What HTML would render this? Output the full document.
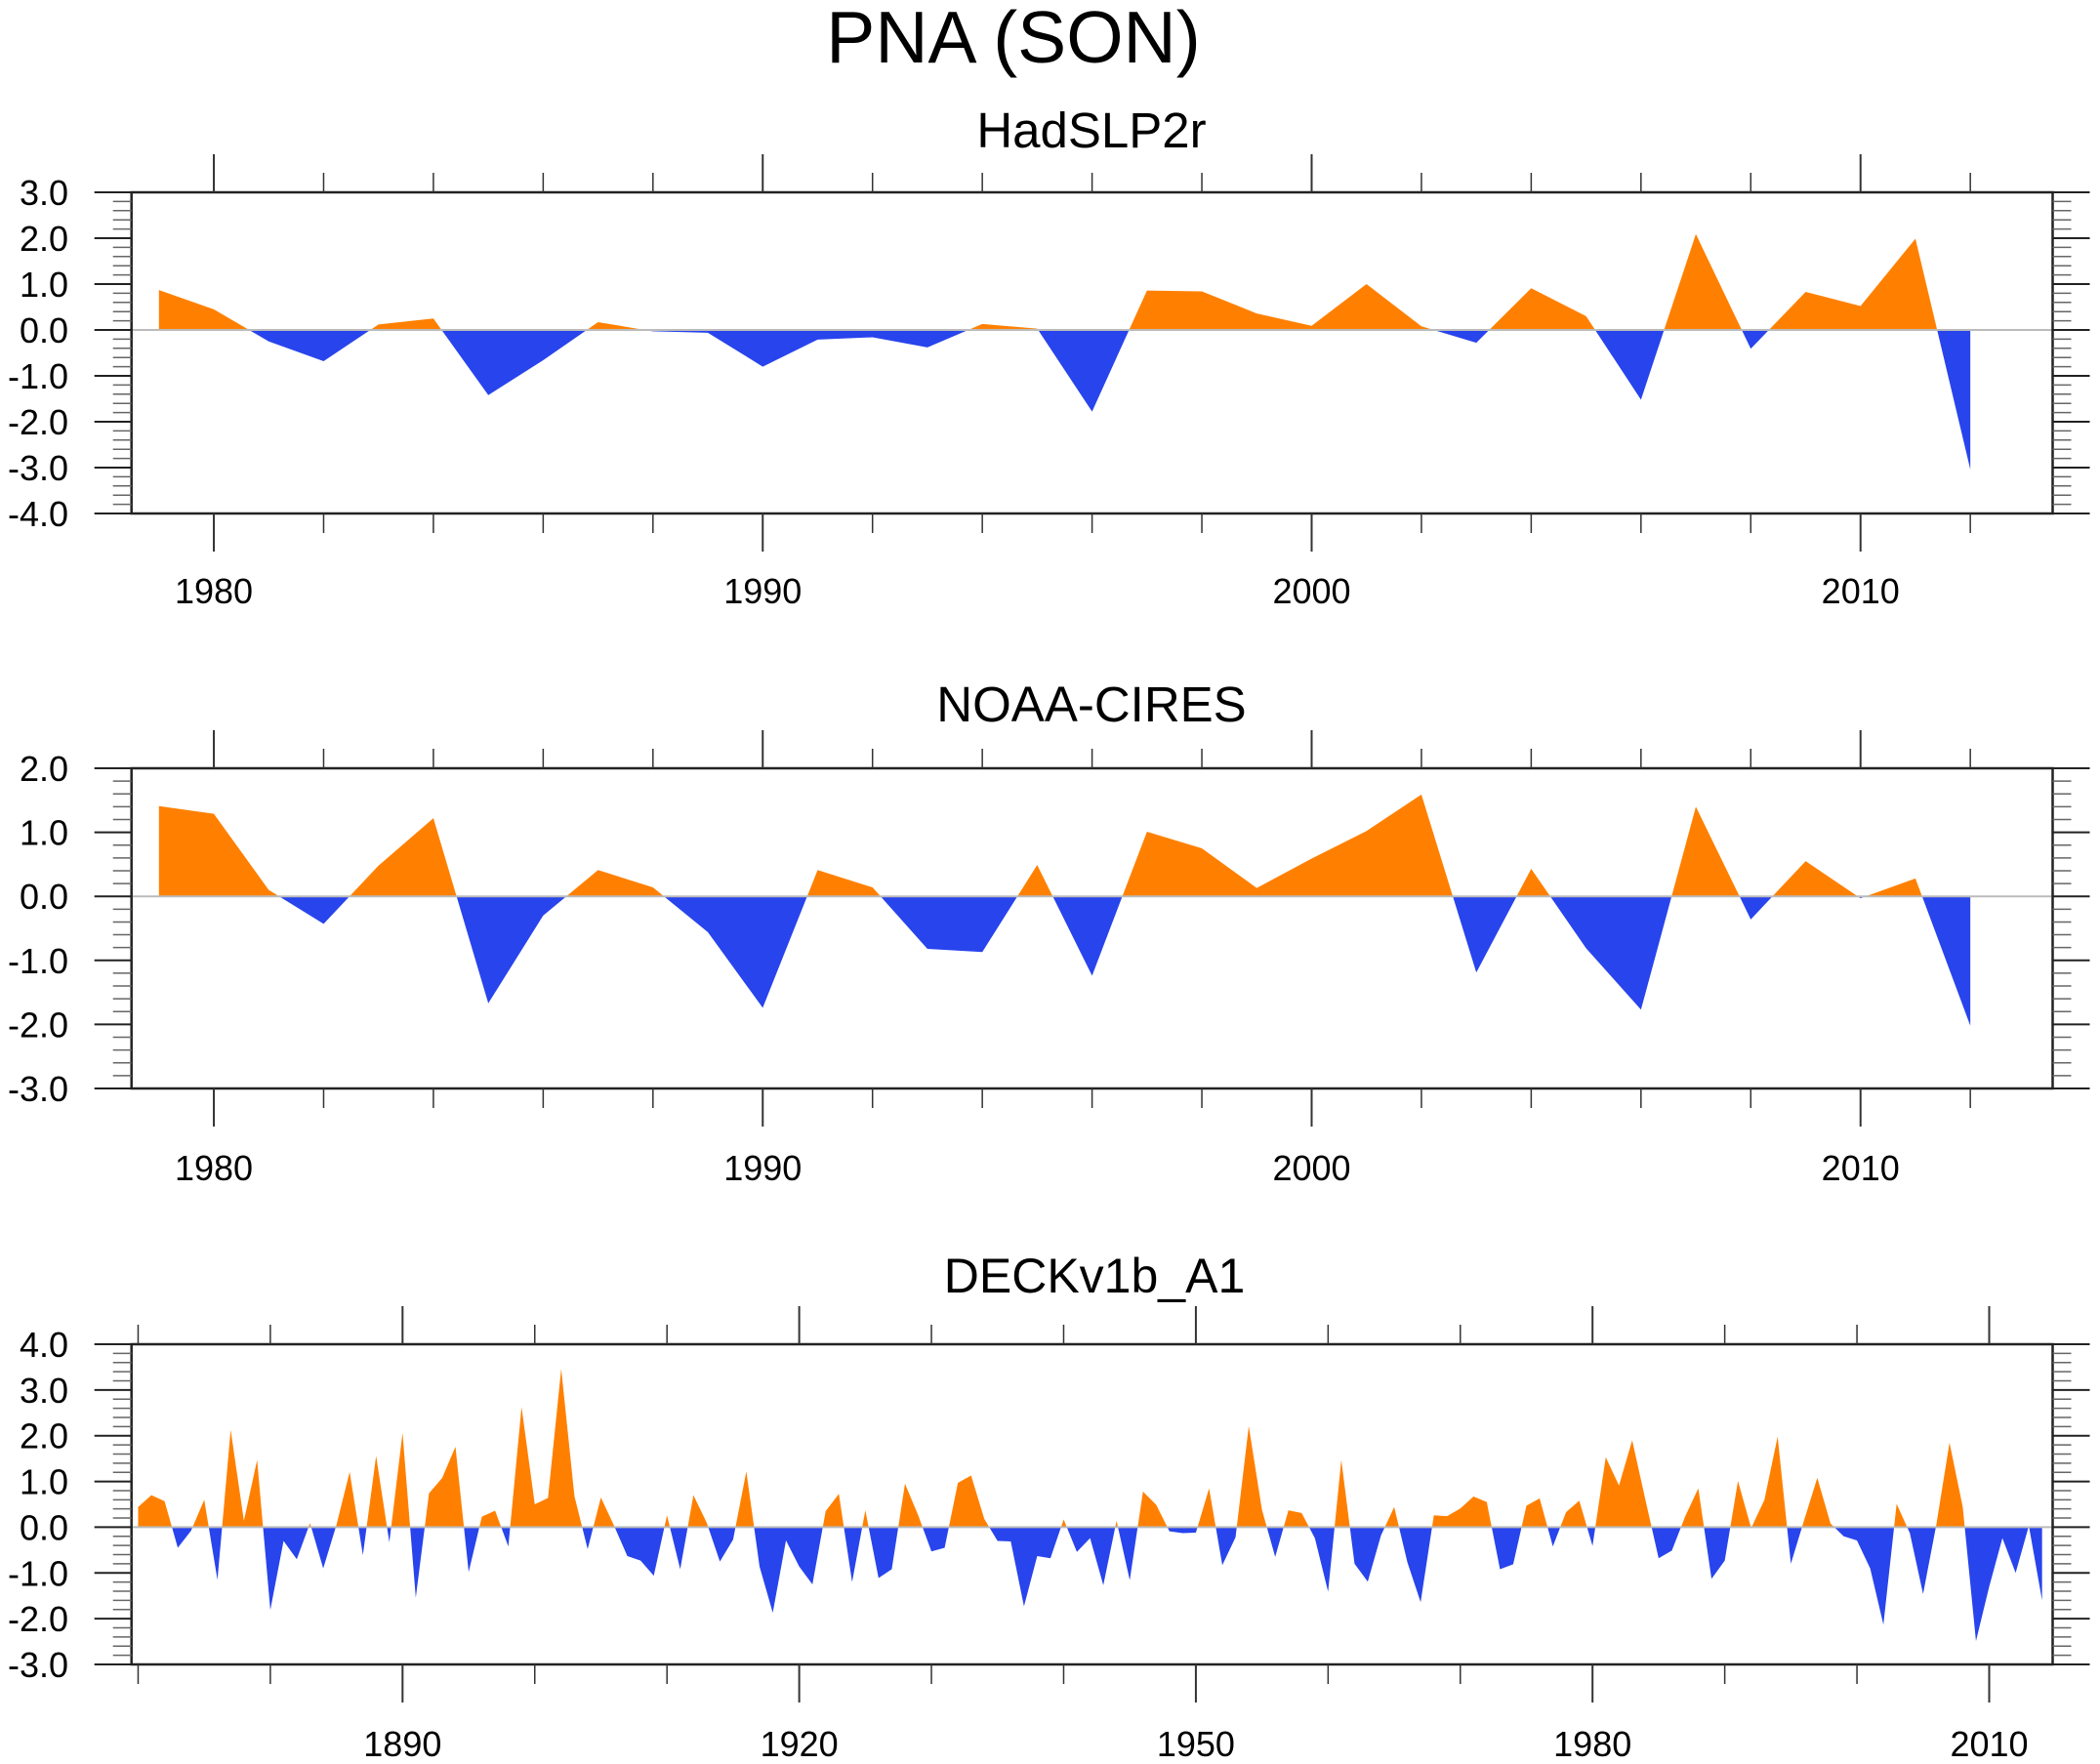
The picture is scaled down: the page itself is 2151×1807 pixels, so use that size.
<!DOCTYPE html>
<html><head><meta charset="utf-8"><style>
html,body{margin:0;padding:0;background:#fff;}
svg{display:block;font-family:"Liberation Sans",sans-serif;}
</style></head><body>
<svg id="chart" width="2151" height="1807" viewBox="0 0 2151 1807" xmlns="http://www.w3.org/2000/svg">
<text x="1038" y="64" font-size="75" text-anchor="middle">PNA (SON)</text>
</svg>
<script>
const yearsA = [];
for (let y = 1979; y <= 2012; y++) yearsA.push(y);
const hadValues = [0.87,0.45,-0.25,-0.68,0.12,0.25,-1.42,-0.66,0.17,-0.03,-0.06,-0.80,-0.21,-0.16,-0.38,0.13,0.03,-1.78,0.86,0.84,0.36,0.09,1.0,0.08,-0.28,0.91,0.30,-1.52,2.09,-0.41,0.83,0.52,1.99,-3.04];
const noaaValues = [1.41,1.29,0.10,-0.43,0.48,1.22,-1.67,-0.30,0.41,0.14,-0.56,-1.74,0.41,0.14,-0.82,-0.87,0.49,-1.24,1.01,0.75,0.13,0.59,1.02,1.59,-1.19,0.43,-0.81,-1.77,1.40,-0.36,0.55,-0.03,0.28,-2.02];
const yearsB = [];
for (let y = 1870; y <= 2014; y++) yearsB.push(y);
const deckValues = [0.44,0.70,0.57,-0.45,-0.08,0.60,-1.15,2.13,0.14,1.47,
-1.81,-0.30,-0.70,0.09,-0.90,0.05,1.21,-0.61,1.56,-0.33,
2.06,-1.54,0.74,1.08,1.76,-0.98,0.23,0.36,-0.42,2.63,
0.50,0.64,3.46,0.68,-0.48,0.65,0.03,-0.63,-0.73,-1.06,
0.26,-0.92,0.70,0.10,-0.75,-0.27,1.22,-0.86,-1.87,-0.29,
-0.86,-1.25,0.35,0.73,-1.20,0.37,-1.11,-0.92,0.95,0.26,
-0.53,-0.45,0.97,1.13,0.18,-0.30,-0.31,-1.73,-0.63,-0.68,
0.17,-0.54,-0.24,-1.27,0.14,-1.16,0.78,0.49,-0.09,-0.13,
-0.12,0.85,-0.83,-0.22,2.21,0.38,-0.65,0.37,0.31,-0.24,
-1.41,1.47,-0.80,-1.19,-0.18,0.44,-0.77,-1.64,0.26,0.24,
0.41,0.67,0.55,-0.92,-0.81,0.47,0.63,-0.42,0.33,0.58,
-0.41,1.53,0.91,1.90,0.60,-0.68,-0.51,0.23,0.85,-1.13,
-0.73,1.01,-0.02,0.60,1.98,-0.80,0.15,1.08,0.08,-0.20,
-0.29,-0.90,-2.13,0.51,-0.13,-1.46,0.05,1.85,0.44,-2.49,
-1.30,-0.24,-1.00,0.03,-1.60];
const ticksA = [1980,1990,2000,2010];
const ticksB = [1890,1920,1950,1980,2010];

const NS = "http://www.w3.org/2000/svg";
const svg = document.getElementById('chart');
function mk(tag, attrs, parent){
  const e = document.createElementNS(NS, tag);
  for (const k in attrs) e.setAttribute(k, attrs[k]);
  (parent||svg).appendChild(e);
  return e;
}
const L = 134.7, R = 2102.5;
const panels = [
  {name:'hadslp2r', title:'HadSLP2r', tx:1118, ty:151, tfs:51, top:197, bot:526, ymax:3, ymin:-4,
   x0:1978.5, x1:2013.5, years:yearsA, vals:hadValues, major:ticksA, minorStep:2, minorFrom:1980, minorTo:2012, lblY:618},
  {name:'noaa-cires', title:'NOAA-CIRES', tx:1118, ty:739, tfs:51, top:787, bot:1115, ymax:2, ymin:-3,
   x0:1978.5, x1:2013.5, years:yearsA, vals:noaaValues, major:ticksA, minorStep:2, minorFrom:1980, minorTo:2012, lblY:1209},
  {name:'deckv1b-a1', title:'DECKv1b_A1', tx:1121, ty:1324, tfs:50, top:1377, bot:1705, ymax:4, ymin:-3,
   x0:1869.5, x1:2014.8, years:yearsB, vals:deckValues, major:ticksB, minorStep:10, minorFrom:1870, minorTo:2010, lblY:1799}
];
panels.forEach((p, pi) => {
  const g = mk('g', {});
  
  
  const xs = v => L + (v - p.x0) / (p.x1 - p.x0) * (R - L);
  const ys = v => p.top + (p.ymax - v) / (p.ymax - p.ymin) * (p.bot - p.top);
  const t = mk('text', {x:p.tx, y:p.ty, 'font-size':p.tfs, 'text-anchor':'middle'}, g);
  t.textContent = p.title;
  
  
  const y0 = ys(0);
  const defs = mk('defs', {}, g);
  const cpA = mk('clipPath', {id:'above'+pi}, defs);
  mk('rect', {x:L, y:p.top, width:R-L, height:y0-p.top}, cpA);
  const cpB = mk('clipPath', {id:'below'+pi}, defs);
  mk('rect', {x:L, y:y0, width:R-L, height:p.bot-y0}, cpB);
  let d = 'M' + xs(p.years[0]) + ' ' + y0;
  p.years.forEach((yr, i) => { d += ' L' + xs(yr) + ' ' + ys(p.vals[i]); });
  d += ' L' + xs(p.years[p.years.length-1]) + ' ' + y0 + ' Z';
  const pos = mk('path', {d:d, fill:'#ff8000', 'clip-path':'url(#above'+pi+')'}, g);
  
  
  const neg = mk('path', {d:d, fill:'#2844ec', 'clip-path':'url(#below'+pi+')'}, g);
  
  
  const zl = mk('line', {x1:L, x2:R, y1:y0, y2:y0, stroke:'#bbb', 'stroke-width':2}, g);
  
  
  const fr = mk('rect', {x:L, y:p.top, width:R-L, height:p.bot-p.top, fill:'none', stroke:'#222', 'stroke-width':2.5}, g);
  
  
  for (let yr = p.minorFrom; yr <= p.minorTo; yr += p.minorStep) {
    const isMaj = p.major.indexOf(yr) >= 0;
    const len = isMaj ? 39 : 20;
    const x = xs(yr);
    mk('line', {x1:x, x2:x, y1:p.top, y2:p.top-len, stroke:'#333', 'stroke-width':isMaj?2:1.5}, g);
    mk('line', {x1:x, x2:x, y1:p.bot, y2:p.bot+len, stroke:'#333', 'stroke-width':isMaj?2:1.5}, g);
  }
  p.major.forEach(yr => {
    const lb = mk('text', {x:xs(yr), y:p.lblY, 'font-size':36, 'text-anchor':'middle'}, g);
    lb.textContent = yr;
    
    
  });
  for (let k = Math.round(p.ymin*5); k <= Math.round(p.ymax*5); k++) {
    const v = k / 5;
    const isMaj = k % 5 === 0;
    const len = isMaj ? 38 : 19;
    const y = ys(v);
    mk('line', {x1:L, x2:L-len, y1:y, y2:y, stroke:isMaj?'#222':'#666', 'stroke-width':isMaj?2:1.5}, g);
    mk('line', {x1:R, x2:R+len, y1:y, y2:y, stroke:isMaj?'#222':'#666', 'stroke-width':isMaj?2:1.5}, g);
    if (isMaj) {
      const lb = mk('text', {x:70, y:y+13, 'font-size':36, 'text-anchor':'end'}, g);
      lb.textContent = v.toFixed(1);
      
      
    }
  }
});
</script>
</body></html>
